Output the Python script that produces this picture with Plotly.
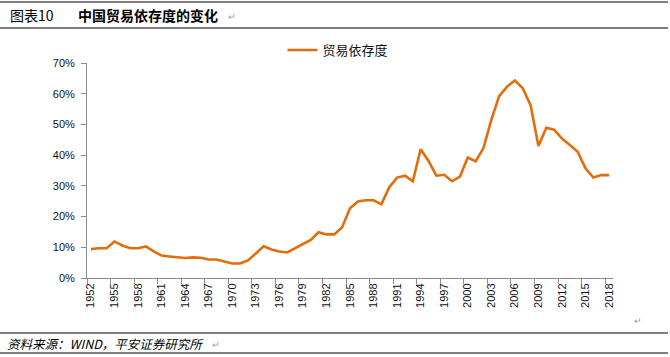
import plotly.graph_objects as go

years = list(range(1952, 2019))
dependency = [
    9.4, 9.7, 9.7, 11.9, 10.6, 9.7, 9.7, 10.3, 8.7, 7.3,
    7.0, 6.8, 6.5, 6.7, 6.6, 6.0, 6.0, 5.4, 4.7, 4.7,
    5.7, 8.0, 10.3, 9.3, 8.6, 8.3, 9.7, 11.0, 12.4, 14.9,
    14.2, 14.2, 16.5, 22.7, 24.9, 25.3, 25.3, 24.0, 29.6, 32.7,
    33.3, 31.5, 41.9, 38.1, 33.3, 33.6, 31.5, 33.0, 39.2, 38.0,
    42.3, 51.5, 59.2, 62.3, 64.3, 61.8, 56.3, 43.0, 48.9, 48.3,
    45.4, 43.3, 41.1, 35.7, 32.7, 33.5, 33.5,
]
values = [v / 100 for v in dependency]
tick_years = years[::3]
y_ticks = [0, 0.1, 0.2, 0.3, 0.4, 0.5, 0.6, 0.7]
series_name = "贸易依存度"
title_prefix = "图表10"
title_main = "中国贸易依存度的变化"
source_text = "资料来源：WIND，平安证券研究所"

W, H = 670, 357
L, R, T, B = 87, 613, 63, 278
CJK = "Noto Sans CJK SC"
LAT = "Liberation Sans"


def px(x):
    return (x - L) / (R - L)


def py(y):
    return (B - y) / (B - T)


fig = go.Figure()
fig.add_trace(go.Scatter(
    x=years, y=values, mode="lines", name=series_name,
    line=dict(color="#E46C0A", width=2.6),
))

axis_color = "#8C8C8C"
fig.update_layout(
    template="none",
    width=W, height=H,
    margin=dict(l=L, r=W - R, t=T, b=H - B, pad=0),
    paper_bgcolor="white", plot_bgcolor="white",
    font=dict(family=f"{LAT}, {CJK}", size=11, color="#111"),
    showlegend=True,
    legend=dict(
        orientation="h", x=px(338), y=py(50), xanchor="center", yanchor="middle",
        font=dict(family=CJK, size=13, color="#111"),
        bgcolor="rgba(0,0,0,0)", itemwidth=30,
    ),
    xaxis=dict(
        range=[1951.5, 2018.5], tickmode="array", tickvals=tick_years,
        ticktext=[str(y) for y in tick_years], tickangle=-90,
        ticks="", showgrid=False, zeroline=False,
        showline=True, linecolor=axis_color, linewidth=1,
        tickfont=dict(family=LAT, size=11, color="#111"),
        minor=dict(tickmode="linear", tick0=1951.5, dtick=3, ticks="outside",
                   ticklen=5, tickcolor=axis_color, tickwidth=1, showgrid=False),
    ),
    yaxis=dict(
        range=[0, 0.7], tickmode="array", tickvals=y_ticks,
        tickformat=".0%", ticks="outside", ticklen=5, tickcolor=axis_color,
        showgrid=False, zeroline=False, showline=True, linecolor=axis_color,
        linewidth=1, ticklabelstandoff=4,
        tickfont=dict(family=LAT, size=11, color="#111"),
    ),
)

# horizontal rules (title & footer bands)
for yy in [2, 28, 333, 353]:
    fig.add_shape(type="line", xref="paper", yref="paper",
                  x0=px(0), x1=px(668), y0=py(yy), y1=py(yy),
                  line=dict(color="#000", width=1))

fig.add_annotation(text=title_prefix, xref="paper", yref="paper",
                   x=px(8), y=py(15), xanchor="left", yanchor="middle",
                   showarrow=False, font=dict(family=CJK, size=14, color="#000"))
fig.add_annotation(text="<b>" + title_main + "</b>", xref="paper", yref="paper",
                   x=px(76), y=py(15), xanchor="left", yanchor="middle",
                   showarrow=False, font=dict(family=CJK, size=14, color="#000"))
fig.add_annotation(text="↵", xref="paper", yref="paper",
                   x=px(226), y=py(17), xanchor="left", yanchor="middle",
                   showarrow=False, font=dict(family=CJK, size=9, color="#999"))
fig.add_annotation(text="↵", xref="paper", yref="paper",
                   x=px(632), y=py(320), xanchor="left", yanchor="middle",
                   showarrow=False, font=dict(family=CJK, size=9, color="#999"))
fig.add_annotation(text="<i>" + source_text + "</i>", xref="paper", yref="paper",
                   x=px(5), y=py(343), xanchor="left", yanchor="middle",
                   showarrow=False, font=dict(family=CJK, size=12.5, color="#000"))
fig.add_annotation(text="↵", xref="paper", yref="paper",
                   x=px(210), y=py(344), xanchor="left", yanchor="middle",
                   showarrow=False, font=dict(family=CJK, size=9, color="#999"))

fig.write_html(
    "out.html",
    config={"displayModeBar": False},
    post_script="document.body.style.margin='0';document.body.style.overflow='hidden';",
)
